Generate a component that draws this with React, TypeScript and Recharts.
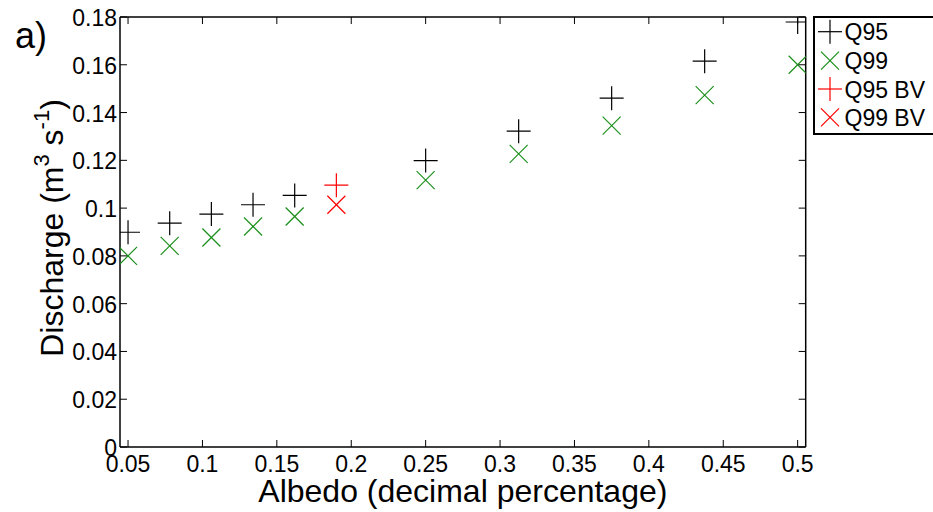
import React from 'react';
import { ScatterChart, Scatter, XAxis, YAxis, Legend } from 'recharts';

const FONT = '"Liberation Sans", Arial, Helvetica, sans-serif';

// Albedo (x) values and discharge values
const albedo = [0.05, 0.078, 0.106, 0.134, 0.162, 0.25, 0.3125, 0.375, 0.4375, 0.5];
const q95 = [0.0899, 0.0937, 0.0975, 0.1014, 0.1053, 0.1199, 0.1322, 0.146, 0.1615, 0.1779];
const q99 = [0.08, 0.0842, 0.0877, 0.0923, 0.0965, 0.1117, 0.1227, 0.1345, 0.1473, 0.16];
const albedoBV = [0.19];
const q95BV = [0.1096];
const q99BV = [0.1014];

const xTicks = [0.05, 0.1, 0.15, 0.2, 0.25, 0.3, 0.35, 0.4, 0.45, 0.5];
const yTicks = [0, 0.02, 0.04, 0.06, 0.08, 0.1, 0.12, 0.14, 0.16, 0.18];

const seriesNames = ['Q95', 'Q99', 'Q95 BV', 'Q99 BV'];
const seriesColors = ['#000000', '#1a8f1a', '#ff0000', '#ff0000'];
const seriesMarkers = ['plus', 'cross', 'plus', 'cross'];

const toPoints = (xs: number[], ys: number[]) => xs.map((x, i) => ({ x, y: ys[i] }));
const seriesData = [
  toPoints(albedo, q95),
  toPoints(albedo, q99),
  toPoints(albedoBV, q95BV),
  toPoints(albedoBV, q99BV),
];

const fmt = (v: number) => String(Number(v.toFixed(3)));

function Marker({ cx, cy, kind, color }: { cx: number; cy: number; kind: string; color: string }) {
  if (cx == null || cy == null) return null;
  if (kind === 'plus') {
    const h = 12;
    return (
      <g stroke={color} strokeWidth={1.2} fill="none">
        <line x1={cx - h} y1={cy} x2={cx + h} y2={cy} />
        <line x1={cx} y1={cy - h} x2={cx} y2={cy + h} />
      </g>
    );
  }
  const h = 9;
  return (
    <g stroke={color} strokeWidth={1.2} fill="none">
      <line x1={cx - h} y1={cy - h} x2={cx + h} y2={cy + h} />
      <line x1={cx - h} y1={cy + h} x2={cx + h} y2={cy - h} />
    </g>
  );
}

function BottomTick(props: any) {
  const { x, y, payload } = props;
  return (
    <g>
      <line x1={x} y1={y} x2={x} y2={y - 7} stroke="#000" strokeWidth={1} />
      <text x={x} y={y + 25} textAnchor="middle" fontSize={23} fontFamily={FONT} fill="#000">
        {fmt(payload.value)}
      </text>
    </g>
  );
}

function TopTick(props: any) {
  const { x } = props;
  return <line x1={x} y1={17} x2={x} y2={24} stroke="#000" strokeWidth={1} />;
}

function LeftTick(props: any) {
  const { x, y, payload } = props;
  return (
    <g>
      <line x1={x} y1={y} x2={x + 7} y2={y} stroke="#000" strokeWidth={1} />
      <text x={x - 3} y={y + 9} textAnchor="end" fontSize={23} fontFamily={FONT} fill="#000">
        {fmt(payload.value)}
      </text>
    </g>
  );
}

function RightTick(props: any) {
  const { y } = props;
  return <line x1={805.7} y1={y} x2={798.7} y2={y} stroke="#000" strokeWidth={1} />;
}

function XTitle(props: any) {
  const vb = props.viewBox || { x: 120, y: 447, width: 686, height: 65 };
  return (
    <text x={vb.x + vb.width / 2} y={vb.y + 55} textAnchor="middle" fontSize={32} fontFamily={FONT} fill="#000">
      Albedo (decimal percentage)
    </text>
  );
}

function YTitle(props: any) {
  const vb = props.viewBox || { x: 0, y: 17, width: 120, height: 430 };
  const cy = vb.y + vb.height / 2 - 4;
  return (
    <text
      transform={`translate(63, ${cy}) rotate(-90)`}
      textAnchor="middle"
      fontSize={32}
      fontFamily={FONT}
      fill="#000"
    >
      Discharge (m
      <tspan fontSize={22} dy={-14}>3</tspan>
      <tspan dy={14}> s</tspan>
      <tspan fontSize={22} dy={-14}>-1</tspan>
      <tspan dy={14}>)</tspan>
    </text>
  );
}

function LegendBox() {
  const rowY = [15.7, 44.7, 73, 101.3];
  return (
    <svg width={130} height={122} style={{ display: 'block' }}>
      <rect x={1} y={1} width={150} height={117} fill="#fff" stroke="#000" strokeWidth={2} />
      {seriesNames.map((name, i) => (
        <g key={name}>
          <Marker cx={17} cy={rowY[i]} kind={seriesMarkers[i]} color={seriesColors[i]} />
          <text x={31.5} y={rowY[i] + 8.5} fontSize={23} fontFamily={FONT} fill="#000">
            {name}
          </text>
        </g>
      ))}
    </svg>
  );
}

export default function App() {
  return (
    <div style={{ position: 'fixed', left: 0, top: 0, width: 933, height: 512, overflow: 'hidden', background: '#fff' }}>
      <ScatterChart width={933} height={512} margin={{ top: 16, right: 126.3, left: 0, bottom: 0 }}>
        <XAxis
          type="number"
          dataKey="x"
          domain={[0.0446, 0.5054]}
          ticks={xTicks}
          interval={0}
          allowDataOverflow
          height={65}
          tickSize={0}
          tickMargin={0}
          tickLine={false}
          axisLine={{ stroke: '#000', strokeWidth: 1.5 }}
          tick={<BottomTick />}
          label={<XTitle />}
        />
        <XAxis
          xAxisId="top"
          orientation="top"
          type="number"
          dataKey="x"
          domain={[0.0446, 0.5054]}
          ticks={xTicks}
          interval={0}
          allowDataOverflow
          height={1}
          tickSize={0}
          tickMargin={0}
          tickLine={false}
          axisLine={{ stroke: '#000', strokeWidth: 1.5 }}
          tick={<TopTick />}
        />
        <YAxis
          type="number"
          dataKey="y"
          domain={[0, 0.18]}
          ticks={yTicks}
          interval={0}
          allowDataOverflow
          width={120}
          tickSize={0}
          tickMargin={0}
          tickLine={false}
          axisLine={{ stroke: '#000', strokeWidth: 1.5 }}
          tick={<LeftTick />}
          label={<YTitle />}
        />
        <YAxis
          yAxisId="right"
          orientation="right"
          type="number"
          dataKey="y"
          domain={[0, 0.18]}
          ticks={yTicks}
          interval={0}
          allowDataOverflow
          width={1}
          tickSize={0}
          tickMargin={0}
          tickLine={false}
          axisLine={{ stroke: '#000', strokeWidth: 1.5 }}
          tick={<RightTick />}
        />
        <Legend
          layout="horizontal"
          align="center"
          verticalAlign="middle"
          content={() => <LegendBox />}
          wrapperStyle={{ position: 'absolute', left: 813, top: 16, width: 130, height: 122 }}
        />
        {seriesData.map((data, i) => (
          <Scatter
            key={seriesNames[i]}
            name={seriesNames[i]}
            data={data}
            isAnimationActive={false}
            shape={(p: any) => <Marker cx={p.cx} cy={p.cy} kind={seriesMarkers[i]} color={seriesColors[i]} />}
          />
        ))}
        <text x={15} y={48} fontSize={36} fontFamily={FONT} fill="#000">a)</text>
      </ScatterChart>
    </div>
  );
}
